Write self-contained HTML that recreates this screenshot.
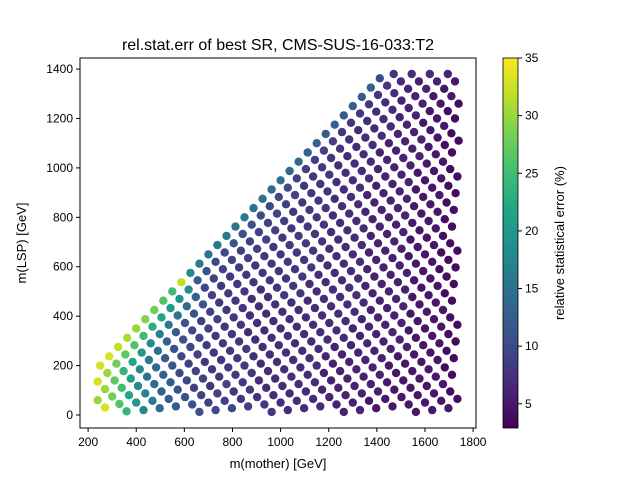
<!DOCTYPE html>
<html><head><meta charset="utf-8"><style>
body{margin:0;background:#fff;}
svg{display:block;font-family:"Liberation Sans","DejaVu Sans",sans-serif;}
</style></head><body>
<svg id="chart" width="640" height="480" viewBox="0 0 640 480">
<defs><linearGradient id="vir" x1="0" y1="1" x2="0" y2="0">
<stop offset="0" stop-color="#440154"/><stop offset="0.1" stop-color="#482475"/><stop offset="0.2" stop-color="#414487"/><stop offset="0.3" stop-color="#355f8d"/><stop offset="0.4" stop-color="#2a788e"/><stop offset="0.5" stop-color="#21918c"/><stop offset="0.6" stop-color="#22a884"/><stop offset="0.7" stop-color="#44bf70"/><stop offset="0.8" stop-color="#7ad151"/><stop offset="0.9" stop-color="#bddf26"/><stop offset="1" stop-color="#fde725"/>
</linearGradient></defs>
<text x="278" y="50" text-anchor="middle" font-size="16">rel.stat.err of best SR, CMS-SUS-16-033:T2</text>
<g id="points"></g>
<rect x="80" y="58" width="396" height="370" fill="none" stroke="#000" stroke-width="1"/>
<g id="xt"></g>
<g id="yt"></g>
<text x="278" y="468" text-anchor="middle" font-size="13">m(mother) [GeV]</text>
<text transform="translate(26,243) rotate(-90)" text-anchor="middle" font-size="13">m(LSP) [GeV]</text>
<rect x="503" y="58" width="15" height="370" fill="url(#vir)" stroke="#000" stroke-width="0.8"/>
<g id="ct"></g>
<text transform="translate(564,243) rotate(-90)" text-anchor="middle" font-size="13">relative statistical error (%)</text>
</svg>
<script>
const rowSums=[300,375,450,525,600,675,750,825,900,975,1050,1125,1200,1275,1350,1425,1500,1575,1650,1725,1800,1875,1950,2025,2100,2175,2250,2325,2400,2475,2550,2625,2700,2775,2850,2925,3000,3075];
const rowErrors=["ux","xusqo","xurpmki","xsolihge","wrmifedcc","vqkgedcbbbb","upifcbaa999a","tnhdba999899a","smgcba98889889","qkfba98888888888","pjeb9988888877777","widb99888877777777","ica9888877777777777","gb9888877777777776666","fa98887777777777666666","ga988877777777766666655","gb9988888777777666666655","fb998888887777776666655555","gb9988888777777666665555555","fa99888887777776666655555555","fa99888887777776666665555544","ea988888777776666665555544","fa98888777776666665555544","e98888777776666665555544","e9888777776666665555544","d98877776666665555544","d9877776666665555444","c987777666665555444","d87777666665555444","c877766666555544","d87776666555544","c8777666655544","d877666655544","a8766655544","8766655544","7665544","76554","65"];
const xTicks=[200,400,600,800,1000,1200,1400,1600,1800];
const yTicks=[0,200,400,600,800,1000,1200,1400];
const cTicks=[5,10,15,20,25,30,35];
const NS="http://www.w3.org/2000/svg";
const xs=v=>40+0.2406*v, ys=v=>415-0.2471*v;
const vmin=2.9,vmax=35, cs=v=>428-(v-vmin)/(vmax-vmin)*370;
const vir=[[68,1,84],[72,36,117],[65,68,135],[53,95,141],[42,120,142],[33,145,140],[34,168,132],[68,191,112],[122,209,81],[189,223,38],[253,231,37]];
function col(v){let t=Math.max(0,Math.min(1,(v-vmin)/(vmax-vmin)))*10;let i=Math.min(9,Math.floor(t)),f=t-i;
const a=vir[i],b=vir[i+1];return `rgb(${a.map((c,k)=>Math.round(c+(b[k]-c)*f)).join(',')})`;}
function mk(t,attrs,p){const e=document.createElementNS(NS,t);for(const k in attrs)e.setAttribute(k,attrs[k]);p.appendChild(e);return e;}
const gp=document.getElementById('points');
rowSums.forEach((S,r)=>{
 const start=Math.max((S+50)/2,S-1380,240);
 const errs=rowErrors[r];
 for(let i=0;i<errs.length;i++){
  const m=start+30*i, l=S-m, e=parseInt(errs[i],36);
  const c=mk('circle',{cx:xs(m).toFixed(1),cy:ys(l).toFixed(1),r:4.2,fill:col(e)},gp);
  
  
 }
});
const gx=document.getElementById('xt');
xTicks.forEach(v=>{const x=xs(v);
 mk('line',{x1:x,x2:x,y1:428,y2:432,stroke:'#000'},gx);
 const t=mk('text',{x:x,y:446,'text-anchor':'middle','font-size':12},gx);t.textContent=v;
 
 });
const gy=document.getElementById('yt');
yTicks.forEach(v=>{const y=ys(v);
 mk('line',{x1:76,x2:80,y1:y,y2:y,stroke:'#000'},gy);
 const t=mk('text',{x:73,y:y+4,'text-anchor':'end','font-size':12},gy);t.textContent=v;
 
 });
const gc=document.getElementById('ct');
cTicks.forEach(v=>{const y=cs(v);
 mk('line',{x1:518,x2:522,y1:y,y2:y,stroke:'#000'},gc);
 const t=mk('text',{x:525,y:y+4,'font-size':12},gc);t.textContent=v;
 
 });
</script>
</body></html>
